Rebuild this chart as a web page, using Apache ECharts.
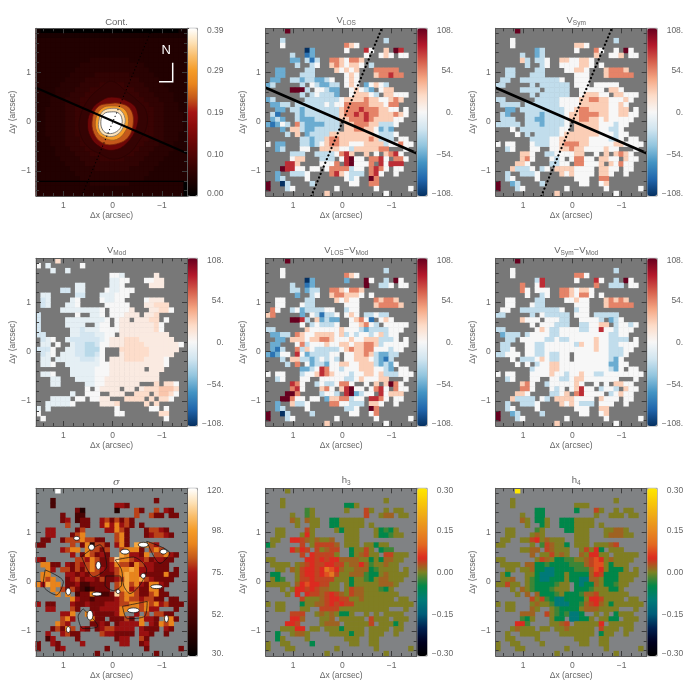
<!DOCTYPE html>
<html><head><meta charset="utf-8">
<style>html,body{margin:0;padding:0;background:#fff}#c{width:689px;height:689px}</style>
<script src="https://cdn.jsdelivr.net/npm/echarts@6/dist/echarts.min.js"></script>
</head><body><div id="c"></div><script>
// Cell centres of the spectral maps, arcsec
const xCells = [1.5,1.4,1.3,1.2,1.1,1.0,0.9,0.8,0.7,0.6,0.5,0.4,0.3,0.2,0.1,0,-0.1,-0.2,-0.3,-0.4,-0.5,-0.6,-0.7,-0.8,-0.9,-1.0,-1.1,-1.2,-1.3,-1.4,-1.5];
const yCells = [1.85,1.75,1.65,1.55,1.45,1.35,1.25,1.15,1.05,0.95,0.85,0.75,0.65,0.55,0.45,0.35,0.25,0.15,0.05,-0.05,-0.15,-0.25,-0.35,-0.45,-0.55,-0.65,-0.75,-0.85,-0.95,-1.05,-1.15,-1.25,-1.35,-1.45];
// Value read for each digit in the rows below
const velocityLevels = [-108,-80,-54,-27,0,27,54,80,108];
const modelLevels = [-40,-30,-20,-10,0,10,20,30,40];
const sigmaLevels = [30,40,50,62,72,80,90,100,110,120];
const h3Levels = [-0.10,-0.05,-0.025,0.002,0.018,0.035,0.05,0.08,0.12,0.30];
const contLevels = [0,0.02,0.03,0.04,0.05,0.06,0.07,0.09,0.12,0.16];
// Spaxels with a valid fit
const validMask = [
"....# ..... ..... ..... ..... ..... .",
"..... ..... ..... ..... ..... ..... .",
"...#. ..... ..... ..... ....# ..... .",
"...#. ..... ..... .###. ..... ..... .",
"..... ...## ..... .#... ##..# .##.. .",
"..... #..## ..... ..... #..## #.##. .",
"..... ##.## #..## ##### ..... ..... .",
"..... .#..# #..## ##### .#... ..... .",
"..##. ...## ....# ####. ..### ##... .",
"..##. ..### ..... .###. ..### ###.. .",
".##.. ##### ####. .###. ..... ..... .",
"##... ..#.# ##### .###. ##### ..... .",
"..... ####. ##### ..### ##.## #.... .",
"..... ..#.# ##### ..### ###.# ####. .",
"##... ...## ##### ##### ##### ###.. .",
".#### .#### ##### ##### ##### ##... .",
"..##. ##### ##### ##### ##### ##.#. .",
".##.. .#### ##### ##### ##### ####. .",
".###. .#### ##### ##### ##### ###.. .",
"##### .#### ##### .#### ##### ##... .",
"...#. ##### ##### .#### ##### #.... .",
"....# .#.## ##### ##### ##### ##... .",
"..... ..### ##### ##### ##### #.##. .",
"#.##. ..### ##### ##### ##### ##### .",
"..##. ..##. .#### ##### ##### ...#. .",
"..... ###.. ##### ###.. #.#.# ###.. .",
"..... ###.. .###. ##### .#### .###. .",
"....# ##... .#### .#### ##.## ###.. .",
"...## ###.# #.### ##### .#### .##.. .",
"..#.. ####. ...## ##### .###. .#... .",
"..##. ...#. ..... .###. .##.. ..... .",
"#..## ....# ..... ..##. .##.. ..... .",
"#...# #.... ....# ..... ..#.. ....# .",
"..... ..... ..#.. ..... ....# ..... ."];
const modelMask = [
"....# ..... ..... ..... ..... ..... .",
"#.#.. ....# ..... ..... ..... ..... .",
"...#. .#... ..... ..... ..... ..... .",
"..... ..... ..... ###.. ....# ..... .",
"..... ..... ..... ####. ..### #.... .",
"..... ...## ..... ###.. ...## #.... .",
"..... ##.## ....# ##### ..... ..... .",
".##.. ...## ...## ####. ..... ..... .",
".##.. ..##. ...## ###.. ..### #.... .",
".##.. .###. ....# ####. ..### ##... .",
"..... ##### ####. ##### ...## ###.. .",
"#.... ...#. .###. ##### #.### ..... .",
"#.... .#### ##### .###. ##### .#... .",
"#.... .#### ..### .#### ##### #.... .",
"#.... ..### ##### ##### ##### #.... .",
"##... ..### ##### #.### ##### ##... .",
".###. .#### ##### ##### ##### ###.. .",
".##.# ..### ##### ##### ##### ##### .",
"####. .#### ####. ..### ##### ####. .",
".###. ##### ####. ..### ##### ###.. .",
".##.# ##### ####. ##### ##### ##... .",
".###. .#### ##### ##### ##### ##... .",
"..... ..### ##### ##### ##.## #.... .",
".###. ..### ##### ##### ##### ..... .",
"...## ...## ##### ##### ##### ..... .",
"...## ..... ##### ##### #...# .###. .",
"..... ..... #.### ##.## .#### ####. .",
"..... ..#.. ###.. ###.. ###.# ####. .",
"...## ##.## .#### ...## ##.#. ###.. .",
"..### ###.. ...## ##... ..#.# ..... .",
"#.#.. ..... ..... .#... ...## .#... .",
"#.... ..... ..... .##.. ..... ##... .",
".#... ..... ..... ..... ..... .#... .",
"..... ..... ..... ..... ..... ..... ."];
const contRows = [
"10000 00000 00000 00000 00000 00001 1",
"22222 22222 22222 22222 22222 22222 2",
"33333 33333 33333 33333 33333 33333 3",
"33333 33333 33333 33333 33333 33333 3",
"33333 33333 33333 33333 33333 33333 3",
"33333 33333 33333 33333 33333 33333 3",
"33333 33333 34444 44443 33333 33333 3",
"33333 33334 44444 44444 44333 33333 3",
"33333 33344 44444 44444 44433 33333 3",
"33333 33444 44555 55554 44443 33333 3",
"33333 34444 55555 55555 54444 33333 3",
"33333 44445 55566 66655 55444 43333 3",
"33334 44455 56666 66666 55544 44333 3",
"33334 44555 66677 77766 65554 44433 3",
"33344 45556 66777 77777 66555 44433 3",
"33344 45556 67777 77777 76655 54443 3",
"33444 45566 67777 77777 76665 54443 3",
"33444 45566 77777 77777 77665 54444 3",
"33444 45566 77777 77777 77665 54444 3",
"33444 45566 77777 77777 77665 54444 3",
"33444 45566 77777 77777 77665 54444 3",
"33444 45566 67777 77777 76665 54443 3",
"33344 45556 67777 77777 76655 54443 3",
"33344 45556 66777 77777 66555 44433 3",
"33334 44555 66677 77766 65554 44433 3",
"33334 44455 56666 66666 55544 44333 3",
"33333 44445 55566 66655 55444 43333 3",
"33333 34444 55555 55555 54444 33333 3",
"33333 33444 44555 55554 44443 33333 3",
"33333 33344 44444 44444 44433 33333 3",
"33333 33334 44444 44444 44333 33333 3",
"33333 33333 34444 44443 33333 33333 0",
"33333 33333 33333 33333 33333 33333 0",
"33333 33333 33333 33333 33333 33333 0"];
const vLosRows = [
"44448","",
"44434 44444 44444 44444 44443",
"44444 44444 44444 46544",
"44444 44402 44444 44544 74445 48744",
"44444 34412 44444 44444 44445 48444",
"44444 22431 34466 54665",
"44444 43423 44456 54554 43",
"44224 44433 44445 45454 44666 66",
"44224 44333 44444 44544 44566 766",
"42244 33233 22344 44544",
"23444 44344 32233 44544 24543",
"44444 88834 44322 44454 32445 5",
"44444 44343 43332 44455 54345 544",
"23444 44433 33333 45555 65544 565",
"42233 43333 33434 46666 65554 66",
"43223 33233 33333 56667 66655 44",
"43133 33233 33333 56676 76655 565",
"42323 33222 33333 55666 76555 54",
"21243 56322 22333 45566 65533 34",
"22323 55322 33333 35566 55423 2",
"44373 55323 33355 55555 55433 3",
"44444 44332 33566 55555 56533 36",
"44224 44332 34566 55444 55553 446",
"44234 43444 35555 44355 55566 66",
"44444 33344 33334 67544 55455 67",
"44444 45544 43334 47844 46674 566",
"44447 75444 44446 57844 46774 777",
"44387 74474 43466 66344 46764 54",
"44244 33344 44667 54333 46744 5",
"44234 44444 44444 44344 48644",
"84403 44443 44444 44444 46644",
"84443 44444 44444 44444 44444 44444",
"44444 44444 44544"];
const vSymRows = [
"44448","",
"44444 44444 44444 44444 44443",
"44444 44444 44444 45544",
"44444 44423 44444 44444 64444 38",
"44444 34423 44444 44444 54444 58",
"44444 53433 44455 44554",
"44444 43433 44444 44554 4",
"44334 44333 44444 45544 44566 65",
"44334 44333 44444 44444 44566 666",
"43344 33333 33344 44444",
"33444 44333 33333 34444 44444",
"44444 33333 33333 44444 44555",
"44444 44333 33333 44455 54455 544",
"33444 44333 33344 44556 65544 45",
"43333 43333 33344 44555 55544 5",
"43223 33333 33334 45665 55544 55",
"43233 33332 33334 55666 65544 55",
"43333 33322 33334 55665 54544 4",
"33333 33332 33334 45555 54443 4",
"44344 33333 33344 45555 54433",
"44434 33333 33345 55555 54443",
"44444 43333 34455 55554 44433",
"44444 44433 34456 66554 44445 5",
"44344 44444 34455 65544 44544 5",
"44444 55444 33444 45544 45555 65",
"44444 56444 44344 46644 45544 554",
"44445 54444 33344 56644 45554 644",
"44453 33443 44555 54444 55544 54",
"44344 33344 44554 54444 45544 4",
"44344 44444 44444 44444 46644",
"84423 44443 44444 44444 44544",
"84443 44444 44444 44444 44444 44444",
"44444 44444 44544"];
const vModRows = [
"44446","43344",
"44434 43",
"44444 44444 44444 44344 44445",
"44444 44444 44444 33444 44445 5",
"44444 44433 44444 33444 44455 5",
"44444 22433 44444 33444",
"43344 44322 44433 34444",
"42344 43344 44443 34444 44455 55",
"42344 43344 44444 44445 44556 66",
"44444 33333 33344 44445 44555 66",
"24444 44344 33344 44455 54556",
"24444 33333 33334 44555 55566 4",
"24444 33333 33344 44555 55556",
"24444 43332 33344 44555 55556",
"22444 43332 22334 45555 55555 55",
"42344 33222 22234 55566 65555 555",
"43344 33322 11244 55566 66555 5555",
"22244 33322 11144 45666 66655 5555",
"42344 33322 11244 45566 66655 555",
"43343 33332 22344 55566 66555 5",
"43344 33333 33344 55555 55555 5",
"44444 43333 33444 55555 55555 5",
"43344 44333 33444 55555 55555",
"44433 44433 33445 55555 55555",
"44433 44444 33445 55555 55556 766",
"44444 44444 44455 55555 55666 7776",
"44444 44344 44455 55556 66656 776",
"44433 33344 44455 55666 66666 66",
"44333 33444 44455 56666 66666",
"34344 44444 44446 44444 44444 6",
"44444 44444 44446 64444 44444 66",
"44444 44444 44444 44444 44444 6",""];
const vLosResRows = [
"44448","",
"44444 44444 44444 44444 44443",
"44444 44444 44444 46544",
"44444 44402 44444 42444 84453 58",
"44444 34412 44444 44444 84433 48",
"44444 33423 34466 54665",
"44444 42443 44456 65554 5",
"44445 44433 44445 45444 44656 65",
"44444 44433 44444 44444 44566 665",
"66444 34233 33444 43444",
"56444 44244 31334 44544 33433",
"44444 88734 52322 44456 41345 4",
"44444 55453 43334 44445 64334 444",
"33444 44554 44444 54443 23333 4",
"42233 46544 55554 53434 43453 4",
"43223 55545 56654 44544 55533 3",
"42233 54634 44544 55455 66534 44",
"42133 36354 33333 45655 66444 34",
"21244 57423 33344 44455 65322 33",
"22333 55332 34343 34455 54321 3",
"44373 56442 33244 55445 55323 2",
"44444 44223 47644 34445 55443 2",
"44444 43344 57654 44344 55453 33",
"44344 44444 44444 43345 44455 66",
"44444 76444 34334 66444 44555 86",
"44444 67444 55644 57844 34674 764",
"44448 86444 33443 57823 44774 555",
"44388 64434 42255 66344 57764 4",
"44244 53344 44666 44333 45544",
"44234 44444 44444 43344 48644",
"84403 44443 44444 44444 44644",
"84443 44444 44444 44444 44444 44444",
"44444 44444 44544"];
const vSymResRows = [
"44448","",
"44444 44444 44444 44444 44443",
"44444 44444 44444 46644",
"44444 44437 44444 44444 74443 38",
"44444 64447 44444 44444 64433 38",
"44444 64444 44466 54554",
"44444 44433 44466 54664 3",
"44445 44433 44444 45444 44565 65",
"44444 44433 44444 44444 44566 666",
"44444 33333 33344 33444",
"33444 44334 33333 44444 33333",
"44444 54445 44433 34444 43323 4",
"44444 44444 44333 33334 45533 443",
"33444 44445 43344 44334 47443 4",
"42333 43444 43344 44444 44433 4",
"43333 44444 33433 44444 54433 33",
"43333 44433 44444 43544 54433 44",
"43344 44433 44444 44444 54433 3",
"33444 44433 43344 44444 44433 3",
"44344 33345 43344 44444 44432",
"44434 34334 45544 44444 44422",
"44444 43344 45544 44444 44432",
"44444 34444 45443 44544 33444 4",
"44344 44444 44433 45544 44444 4",
"44444 56444 34444 45434 44445 54",
"44443 66444 44344 45744 43443 554",
"44445 54444 33345 56744 44334 544",
"44353 33344 34555 54444 55444 44",
"44344 33344 44554 54333 44444 4",
"44344 44444 44444 44444 45544",
"84423 44443 44444 44444 44544",
"84443 44444 44444 44444 44444 44444",
"44444 44444 44544"];
const sigmaRows = [
"33339","",
"33323",
"23324 33333 33333 34433",
"23323 33331 33333 31333 53335 44",
"33333 33322 33333 33333 53353 35",
"33333 34323 33345 35353",
"33333 35323 33346 46453 5",
"33443 33335 33334 46533 33355 43",
"33443 33356 33333 35633 33345 543",
"33333 35556 55333 45633",
"33333 33533 61553 34633 76654",
"33333 45665 65535 33566 63656 5",
"33333 33433 65343 36764 43665 564",
"43333 34455 46533 58665 44534 43",
"46633 44354 56533 46553 65443 3",
"43643 55353 56543 45667 64443 3",
"36643 34434 35533 35676 64333 36",
"66563 63453 44353 34576 67543 33",
"64766 53342 23333 35675 64366 43",
"33664 53532 12333 35674 53366",
"33376 36423 36322 38566 53356",
"33333 33643 32333 34565 54553",
"43333 37433 43334 44556 65656 45",
"33443 36533 43344 44666 65644 5",
"33333 44636 64333 34663 44545 5",
"33333 56446 66333 33353 56443 666",
"33336 54433 53343 33444 46343 656",
"33335 36544 33345 54444 54333 54",
"33433 45333 33454 43333 34433 3",
"33243 33333 33333 33444 45333",
"33343 33344 33333 33444 33433",
"33443 44444 33333 33333 33333 33333",
"33333"];
const h3Rows = [
"33363","",
"33333",
"33333 33333 33333 31133",
"33333 33323 33333 33333 53353 63",
"33333 34323 33333 33333 53334 43",
"33333 43343 33311 33333",
"33333 33343 33111 33333 3",
"33333 33453 33333 13333 33312 13",
"33333 63363 33433 33333 33311 233",
"33333 66543 43344 33333",
"13333 33533 55554 33333 33133",
"33333 64653 53455 31133 53112 2",
"33333 33566 55553 21134 53315 533",
"33333 33566 56566 44443 31314 4",
"33333 53456 55665 53446 42334 3",
"33333 43566 56876 43344 41233 3",
"21133 33566 56785 33444 21134 33",
"33122 33556 55553 33133 21344 3",
"33333 34676 65533 33133 33344 4",
"33333 36656 54433 33544 33321",
"33333 36665 54565 43544 33333",
"33333 33533 34566 55334 33333",
"33333 33133 44565 65533 33333 3",
"33333 33333 65555 33333 33333 3",
"33333 55533 34343 11333 33333 33",
"33333 66433 33344 33333 35333 133",
"33336 65333 33444 33333 35433 313",
"33333 36633 33333 13333 33333 33",
"33133 34433 33333 33133 33333 3",
"33133","31133 33331","33333",""];
const h4Rows = [
"33339","",
"33333",
"33333",
"33333 33311 33333 31333 53333 63",
"33333 33311",
"33333 43311 33311 13333",
"33333 33311 33111 13333 3",
"33333 33223 33331 13333 33334 43",
"33333 35343 33331 13333 33344 433",
"33333 33563 43331 13333",
"33333 33342 54331 13333 33345",
"33333 33445 54333 33353 61333 3",
"33333 33443 35343 33436 63333 333",
"33333 34335 43112 23345 76343 3",
"33333 34411 21111 22245 77313 3",
"33333 33411 00111 12224 76311 1",
"33123 33310 00113 11114 65111 33",
"33341 33210 01113 11004 43111 3",
"33533 33211 11233 11011 43112 3",
"33333 43211 12333 11112 33311",
"33333 44341 11231 11244 53333",
"33333 33535 21001 11136 65333",
"33333 33343 32000 11245 64313 3",
"33333 33435 63211 11344 43333 3",
"33333 44433 53212 00113 33311 3",
"33333 21333 33111 00113 33311 333",
"33336 62333 33345 33333 36433 333",
"33334 33333 33334 33333 35333 33",
"33333 33333 33333 33333 31333 3",
"33333","33333","33333",""];
// Continuum isophotes: [x, y] arcsec
const contContours = [
 {v:0.075,line:'#2a0202',pts:[[0.02,0.82],[0.26,0.68],[0.5,0.44],[0.66,0.1],[0.66,-0.24],[0.5,-0.51],[0.26,-0.65],[-0.01,-0.76],[-0.32,-0.65],[-0.52,-0.41],[-0.69,-0.1],[-0.67,0.24],[-0.49,0.44],[-0.28,0.61]]},
 {v:0.14,line:'#3d0303',pts:[[0.02,0.5],[0.26,0.41],[0.43,0.24],[0.51,-0.03],[0.45,-0.31],[0.26,-0.51],[-0.01,-0.58],[-0.28,-0.44],[-0.49,-0.1],[-0.49,0.24],[-0.32,0.41]]},
 {v:0.23,line:'#7a2508',pts:[[0.05,0.37],[0.29,0.31],[0.41,0.07],[0.38,-0.24],[0.19,-0.44],[-0.08,-0.45],[-0.32,-0.31],[-0.42,0],[-0.35,0.27],[-0.15,0.37]]},
 {v:0.29,line:'#9a5a20',pts:[[0.02,0.32],[0.22,0.27],[0.34,0.07],[0.32,-0.2],[0.15,-0.34],[-0.08,-0.36],[-0.27,-0.17],[-0.32,0.07],[-0.22,0.27]]},
 {v:0.35,line:'#777777',pts:[[0.02,0.27],[0.19,0.22],[0.27,0.07],[0.27,-0.17],[0.12,-0.29],[-0.08,-0.27],[-0.22,-0.1],[-0.25,0.07],[-0.15,0.24]]},
 {v:0.39,line:'#555555',pts:[[0.02,0.2],[0.18,0.16],[0.24,0],[0.2,-0.17],[0.09,-0.24],[-0.08,-0.2],[-0.18,-0.07],[-0.18,0.09],[-0.11,0.18]]}
];
// Dispersion peaks: x, y, half-width, half-height in arcsec
const sigmaPeaks = [[0.29,0.33,0.05,0.08],[-0.25,0.61,0.09,0.05],[0.43,0.70,0.06,0.06],[0.73,0.88,0.06,0.04],[-0.62,0.75,0.1,0.05],[-1.03,0.61,0.07,0.05],[0.90,-0.20,0.05,0.07],[0.32,-0.25,0.1,0.04],[-0.89,-0.10,0.12,0.04],[-0.42,-0.58,0.12,0.05],[0.46,-0.68,0.06,0.1],[0.90,-0.97,0.04,0.06],[-0.11,-0.20,0.04,0.04],[-0.62,0.12,0.05,0.05],[-1.09,-0.75,0.04,0.07]];
const sigmaContours = [
 [[.14,.116],[-.15,.116],[-.18,-.068],[-.014,-.18],[.155,-.068],[.14,.116]],
 [[-.05,.44],[-.42,.5],[-.69,.24],[-.55,-.07],[-.35,-.24],[-.22,-.07],[-.18,.24],[-.05,.44]],
 [[1.37,.24],[1.0,0],[1.14,-.27],[1.41,-.07],[1.37,.24]],
 [[.63,.51],[.26,.75],[.12,.31],[.39,.1],[.63,.51]],
 [[-.69,.82],[-1.16,.58],[-.96,.37],[-.69,.82]],
 [[.6,-.55],[.3,-.9],[.6,-.95],[.7,-.7],[.6,-.55]],
 [[-.2,-.5],[-.7,-.4],[-.65,-.7],[-.3,-.75],[-.2,-.5]]
];
// Major axis and its normal, arcsec
const majorAxisLine = [[1.555,0.69],[-1.507,-0.64]];
const minorAxisLine = [[0.63,-1.507],[-0.8,1.895]];
const northArrow = [[-1.217,1.197],[-1.217,0.811],[-0.94,0.811]];
const slitBreak = [[1.555,-1.21],[-1.45,-1.21]];
// Ticks and colour-bar labels
const majorTicks = [-1,0,1];
const minorTicksX = [-1.4,-1.2,-0.8,-0.6,-0.4,-0.2,0.2,0.4,0.6,0.8,1.2,1.4];
const minorTicksY = [-1.4,-1.2,-0.8,-0.6,-0.4,-0.2,0.2,0.4,0.6,0.8,1.2,1.4,1.6,1.8];
const contBarLabels = ['0.39','0.29','0.19','0.10','0.00'];
const velBarLabels = ['108.','54.','0.','\u221254.','\u2212108.'];
const sigmaBarLabels = ['120.','98.','75.','52.','30.'];
const hBarLabels = ['0.30','0.15','0.00','\u22120.15','\u22120.30'];
// Colour tables, low to high
const hotColors = ['#000000','#1c0101','#350303','#520505','#6e0707','#8a0b0b','#a51414','#c4581a','#e8841c','#f59c28','#f9bd6a','#fde2b8','#ffffff'];
const rdbuColors = ['#053061','#2166ac','#4393c3','#92c5de','#d1e5f0','#f7f7f7','#fddbc7','#f4a582','#d6604d','#b2182b','#67001f'];
const hColors = ['#000000','#000020','#002050','#005c78','#007a78','#00874a','#7c8222','#dc2a20','#e26a20','#e88a20','#eea818','#f8c808','#ffe800'];

const panels = [
 {title:'Cont.',rows:contRows,mask:null,levels:contLevels,fill:'3',min:0,max:0.39,colors:hotColors,labels:contBarLabels,gray:'#300404'},
 {title:'V{s|LOS}',rows:vLosRows,mask:validMask,levels:velocityLevels,fill:'4',min:-108,max:108,colors:rdbuColors,labels:velBarLabels,gray:'#787878'},
 {title:'V{s|Sym}',rows:vSymRows,mask:validMask,levels:velocityLevels,fill:'4',min:-108,max:108,colors:rdbuColors,labels:velBarLabels,gray:'#787878'},
 {title:'V{s|Mod}',rows:vModRows,mask:modelMask,levels:modelLevels,fill:'4',min:-108,max:108,colors:rdbuColors,labels:velBarLabels,gray:'#787878'},
 {title:'V{s|LOS}\u2212V{s|Mod}',rows:vLosResRows,mask:validMask,levels:velocityLevels,fill:'4',min:-108,max:108,colors:rdbuColors,labels:velBarLabels,gray:'#787878'},
 {title:'V{s|Sym}\u2212V{s|Mod}',rows:vSymResRows,mask:validMask,levels:velocityLevels,fill:'4',min:-108,max:108,colors:rdbuColors,labels:velBarLabels,gray:'#787878'},
 {title:'{i|\u03c3}',rows:sigmaRows,mask:validMask,levels:sigmaLevels,fill:'3',min:30,max:120,colors:hotColors,labels:sigmaBarLabels,gray:'#7d8284'},
 {title:'h{s|3}',rows:h3Rows,mask:validMask,levels:h3Levels,fill:'3',min:-0.3,max:0.3,colors:hColors,labels:hBarLabels,gray:'#808284'},
 {title:'h{s|4}',rows:h4Rows,mask:validMask,levels:h3Levels,fill:'3',min:-0.3,max:0.3,colors:hColors,labels:hBarLabels,gray:'#808284'}
];
const colLeft=[36,265.7,495.7], rowTop=[28.3,258.3,488.3], W=151, H=167.7, PX=49.3;
const barOffsets=[2.4,42.7,84.4,126,165.4];
const FONT='"Liberation Sans"', INK='#666666', TICK='#3c3c3c';

function decode(p){
  const out=[];
  for(let r=0;r<yCells.length;r++){
    const row=(p.rows[r]||'').replace(/ /g,'');
    const m=p.mask?p.mask[r].replace(/ /g,''):null;
    for(let c=0;c<xCells.length;c++){
      if(m&&m[c]!=='#')continue;
      const d=row[c]===undefined?p.fill:row[c];
      out.push([c,r,p.levels[+d]]);
    }
  }
  return out;
}
const grid=[],xAxis=[],yAxis=[],series=[],visualMap=[],title=[];
const rich={s:{fontSize:6.5,fontFamily:FONT,color:INK,padding:[5,0,0,0]},i:{fontSize:10,fontStyle:'italic',fontFamily:'"DejaVu Serif"',color:INK}};
panels.forEach((p,i)=>{
  const L=colLeft[i%3],T=rowTop[Math.floor(i/3)];
  let g=grid.length;
  grid.push({left:L-0.25,top:T,width:3.1*PX,height:H,show:true,backgroundColor:p.gray,borderWidth:0,containLabel:false});
  let xi=xAxis.length,yi=yAxis.length;
  xAxis.push({gridIndex:g,type:'category',data:xCells.map(String),show:false});
  yAxis.push({gridIndex:g,type:'category',data:yCells.map(String),inverse:true,show:false});
  const heatIdx=series.length;
  series.push({type:'heatmap',name:'panel'+i,xAxisIndex:xi,yAxisIndex:yi,data:decode(p),silent:true,progressive:0,z:2,itemStyle:{borderWidth:0,borderColor:'transparent',opacity:1}});
  g=grid.length;
  grid.push({left:L,top:T,width:W,height:H,show:false});
  const mx=xAxis.length,my=yAxis.length;
  const base={gridIndex:g,type:'value',min:-1.507,z:10,splitLine:{show:false},axisLine:{show:true,onZero:false,lineStyle:{color:'#5a5a5a',width:1}},axisTick:{show:true,inside:true,length:5,customValues:majorTicks,lineStyle:{color:TICK,width:1}}};
  const lab={show:true,customValues:majorTicks,fontFamily:FONT,fontSize:8.5,color:INK,formatter:v=>v<0?'\u2212'+(-v):String(v)};
  xAxis.push(Object.assign({},base,{max:1.555,inverse:true,position:'bottom',axisLabel:Object.assign({margin:5},lab),name:'\u0394x (arcsec)',nameLocation:'middle',nameGap:14,nameTextStyle:{fontFamily:FONT,fontSize:8.5,color:INK}}));
  xAxis.push(Object.assign({},base,{max:1.555,inverse:true,position:'top',axisLabel:{show:false}}));
  yAxis.push(Object.assign({},base,{max:1.895,position:'left',axisLabel:Object.assign({margin:5},lab),name:'\u0394y (arcsec)',nameLocation:'middle',nameGap:16,nameTextStyle:{fontFamily:FONT,fontSize:8.5,color:INK}}));
  yAxis.push(Object.assign({},base,{max:1.895,position:'right',axisLabel:{show:false}}));
  g=grid.length;
  grid.push({left:L,top:T,width:W,height:H,show:false});
  const mb={gridIndex:g,type:'value',min:-1.507,z:10,splitLine:{show:false},axisLine:{show:false,onZero:false},axisLabel:{show:false}};
  const tk=v=>({show:true,inside:true,length:3,customValues:v,lineStyle:{color:TICK,width:1}});
  [['bottom'],['top']].forEach(a=>xAxis.push(Object.assign({},mb,{max:1.555,inverse:true,position:a[0],axisTick:tk(minorTicksX)})));
  [['left'],['right']].forEach(a=>yAxis.push(Object.assign({},mb,{max:1.895,position:a[0],axisTick:tk(minorTicksY)})));
  g=grid.length;
  grid.push({left:L+W+0.5,top:T,width:10,height:H,show:true,backgroundColor:'transparent',borderColor:'#9a9a9a',borderWidth:1});
  const bx=xAxis.length,by=yAxis.length;
  xAxis.push({gridIndex:g,type:'value',min:0,max:1,show:false});
  yAxis.push({gridIndex:g,type:'value',inverse:true,min:0,max:H,position:'right',splitLine:{show:false},axisLine:{show:false},axisTick:{show:false},
    axisLabel:{show:true,customValues:barOffsets,align:'right',margin:26,fontFamily:FONT,fontSize:8.5,color:INK,formatter:v=>p.labels[barOffsets.indexOf(v)]}});
  visualMap.push({type:'continuous',show:true,seriesIndex:heatIdx,dimension:2,min:p.min,max:p.max,inRange:{color:p.colors},
    left:L+W+0.5,top:T,itemWidth:10,itemHeight:H,padding:0,calculable:false,hoverLink:false,text:null,zlevel:0,z:6});
  title.push({text:p.title,left:L+W/2,top:T-(p.title.indexOf('{s')>=0?19:16),textAlign:'center',textStyle:{fontFamily:FONT,fontSize:9.5,fontWeight:'normal',color:INK,rich:rich}});
  const lineOn=(d,style,z,smooth)=>series.push({type:'line',xAxisIndex:mx,yAxisIndex:my,data:d,symbol:'none',silent:true,animation:false,clip:true,smooth:smooth||false,z:z||5,lineStyle:style});
  if(i===0){
    series.push({type:'custom',xAxisIndex:mx,yAxisIndex:my,silent:true,z:3,clip:true,data:contContours.map(c=>[c.pts[0][0],c.pts[0][1],c.v]),
      renderItem:(params,api)=>{const c=contContours[params.dataIndex];
        const idx=c.v/0.39*(hotColors.length-1),a=Math.floor(idx),col=hotColors[Math.min(a+(idx-a>0.5?1:0),hotColors.length-1)];
        return {type:'polygon',shape:{points:c.pts.map(q=>api.coord(q)),smooth:0.4},style:{fill:col,stroke:c.line,lineWidth:0.8}};}});
    lineOn(slitBreak,{color:'#000',width:1.2},4);
    lineOn(northArrow,{color:'#fff',width:1.5,cap:'butt',join:'miter'},6);
  }
  if(i<3){
    lineOn(minorAxisLine,{color:'#000',width:i===0?1.2:2.2,type:[0.1,i===0?3.5:3.9],cap:'round'},5);
    lineOn(majorAxisLine,{color:'#000',width:i===0?2.2:2.6},5);
  }
  if(i===6){
    sigmaContours.forEach(c=>lineOn(c,{color:'#111',width:0.7},4,0.3));
    series.push({type:'custom',xAxisIndex:mx,yAxisIndex:my,silent:true,z:5,clip:true,data:sigmaPeaks,encode:{x:0,y:1},
      renderItem:(params,api)=>{const q=sigmaPeaks[params.dataIndex],o=api.coord([q[0],q[1]]),s=api.size([q[2],q[3]]);
        return {type:'ellipse',shape:{cx:o[0],cy:o[1],rx:s[0],ry:s[1]},style:{fill:'#fff',stroke:'#111',lineWidth:0.8}};}});
  }
});
const chart=echarts.init(document.getElementById('c'),null,{renderer:'canvas'});
chart.setOption({animation:false,backgroundColor:'#fff',tooltip:{show:false},title,grid,xAxis,yAxis,series,visualMap,
  graphic:[{type:'text',left:161.5,top:43.5,z:50,style:{text:'N',fontFamily:FONT,fontSize:13,fill:'#fff'}}]});
</script></body></html>
